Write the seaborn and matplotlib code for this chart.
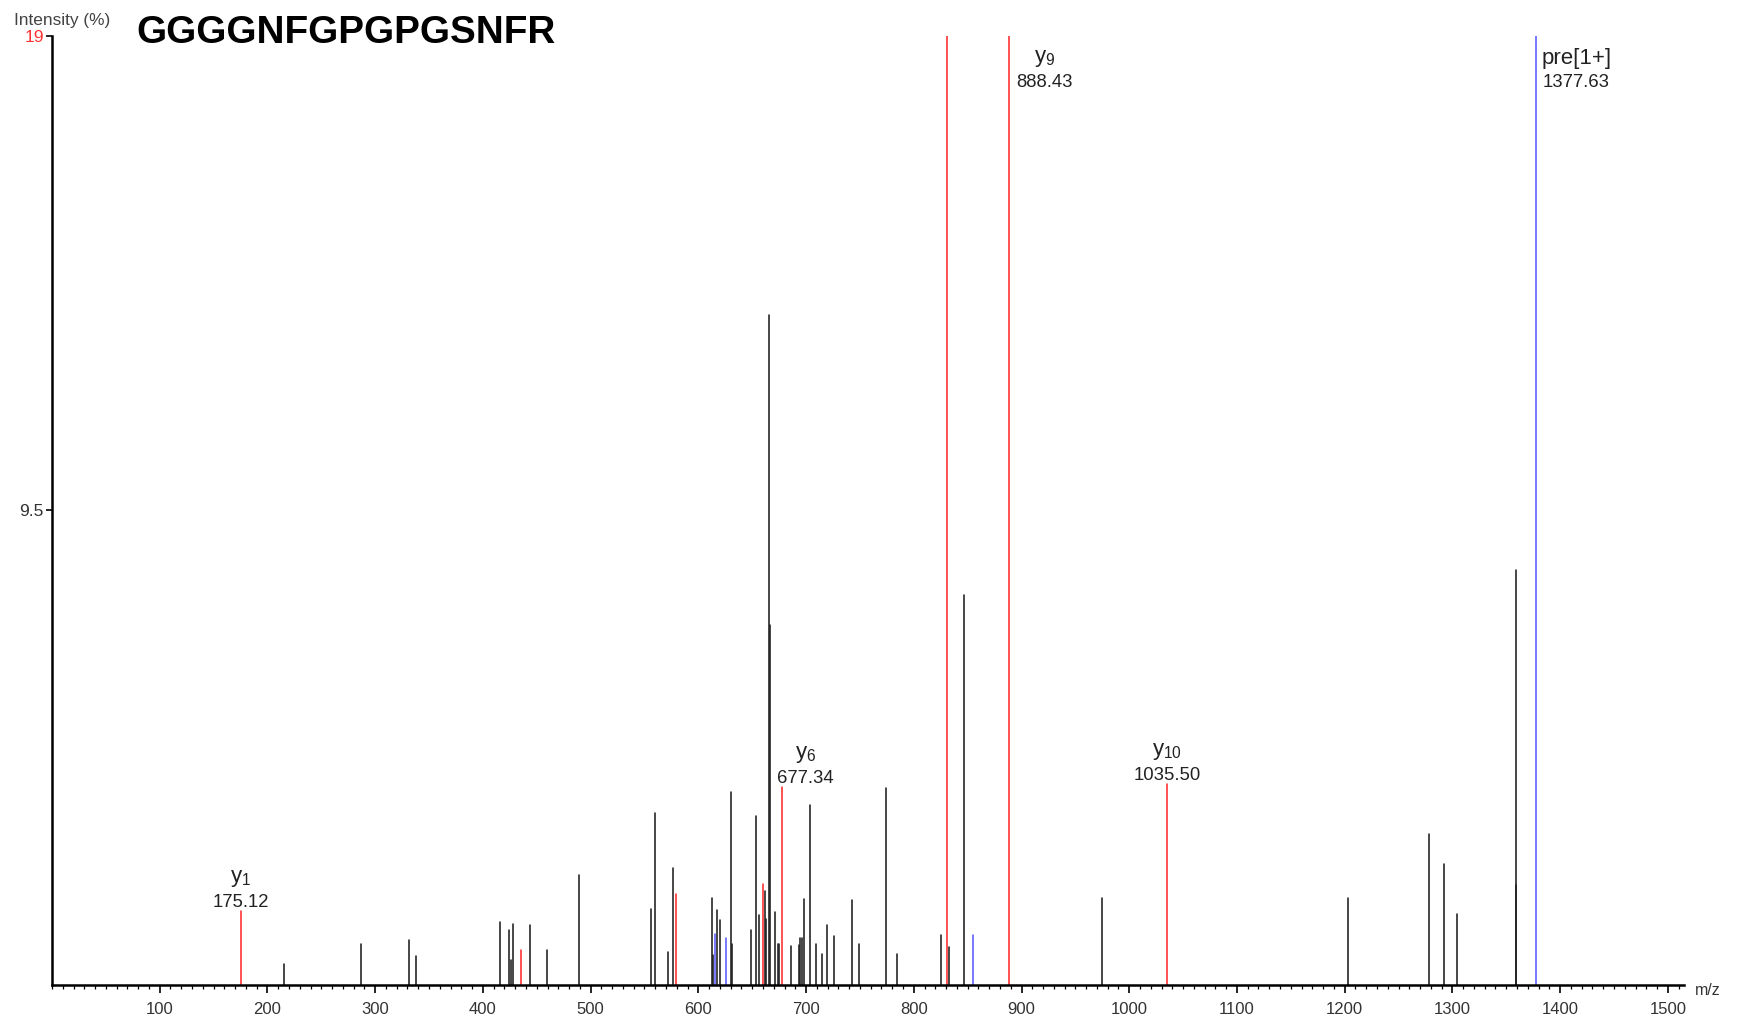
import numpy as np
import pandas as pd
import matplotlib
matplotlib.use("Agg")
import matplotlib.pyplot as plt
import seaborn as sns
from matplotlib.ticker import MultipleLocator, FixedLocator

# ---------------- data ----------------
title = "GGGGNFGPGPGSNFR"

black_mz = [215, 287, 331, 338, 416, 424.6, 426, 427.7, 443.8, 459.6, 489,
            556.5, 559.6, 571.7, 576.6, 613, 613.5, 617.5, 620.5, 630.2, 631.4,
            648.7, 653.7, 656.2, 661.7, 663, 666, 666.6, 671.3, 673.7, 674.5,
            686.2, 693, 694, 695.8, 698, 703.2, 709.4, 715, 719, 725.8, 742.5,
            749.6, 773.8, 784.3, 825.7, 832.3, 846.2, 974.4, 1203.2, 1278,
            1292.3, 1304.4, 1358.8, 1359.3]
black_int = [0.42, 0.82, 0.91, 0.58, 1.26, 1.10, 0.50, 1.23, 1.20, 0.70, 2.20,
             1.53, 3.44, 0.66, 2.35, 1.75, 0.60, 1.50, 1.30, 3.86, 0.82,
             1.10, 3.38, 1.40, 1.88, 1.33, 13.4, 7.2, 1.46, 0.83, 0.83,
             0.78, 0.80, 0.95, 0.95, 1.73, 3.61, 0.83, 0.63, 1.20, 0.98, 1.70,
             0.82, 3.95, 0.63, 1.01, 0.76, 7.80, 1.75, 1.75, 3.03,
             2.43, 1.43, 8.31, 2.0]

red_mz = [175.12, 435.8, 579.7, 659.6, 677.34, 830.7, 888.43, 1035.50]
red_int = [1.49, 0.70, 1.83, 2.03, 3.96, 27.0, 30.0, 4.03]

blue_mz = [615.3, 626.0, 855.2, 1377.63]
blue_int = [1.03, 0.95, 1.01, 29.0]

ion_labels = ["y$_{1}$", "y$_{6}$", "y$_{9}$", "y$_{10}$", "pre[1+]"]
ion_mz = [175.12, 677.34, 888.43, 1035.50, 1377.63]
ion_text = ["175.12", "677.34", "888.43", "1035.50", "1377.63"]

x_ticks = list(range(100, 1501, 100))
y_ticks = [9.5, 19]
y_tick_labels = ["9.5", "19"]

# ---------------- build table ----------------
rows = []
pid = 0
for kind, mzs, ints in (("black", black_mz, black_int),
                        ("red", red_mz, red_int),
                        ("blue", blue_mz, blue_int)):
    for m, v in zip(mzs, ints):
        rows.append({"peak": pid, "kind": kind, "mz": m, "intensity": 0.0})
        rows.append({"peak": pid, "kind": kind, "mz": m, "intensity": v})
        pid += 1
df = pd.DataFrame(rows)
all_mz = black_mz + red_mz + blue_mz
all_int = black_int + red_int + blue_int

# ---------------- style ----------------
sns.set_theme(style="white")
plt.rcParams["font.family"] = ["Liberation Sans", "DejaVu Sans"]
plt.rcParams["mathtext.fontset"] = "custom"
plt.rcParams["mathtext.rm"] = "Liberation Sans"
plt.rcParams["mathtext.it"] = "Liberation Sans"
plt.rcParams["mathtext.default"] = "regular"

fig = plt.figure(figsize=(17.37, 10.19), dpi=100)
ax = fig.add_axes([52 / 1737, 34 / 1019, (1684 - 52) / 1737, (983.5 - 34) / 1019])

palette = {"black": "#1e1e1e", "red": "#ff2b2b", "blue": "#5a5aff"}
sns.lineplot(data=df, x="mz", y="intensity", hue="kind", units="peak",
             estimator=None, sort=False, palette=palette, legend=False,
             linewidth=1.15, ax=ax)

ax.set_xlim(0, 1515)
ax.set_ylim(0, 19)
ax.set_xlabel("")
ax.set_ylabel("")

for s in ("top", "right"):
    ax.spines[s].set_visible(False)
for s in ("left", "bottom"):
    ax.spines[s].set_color("black")
    ax.spines[s].set_linewidth(1.8)

ax.xaxis.set_major_locator(FixedLocator(x_ticks))
ax.xaxis.set_minor_locator(MultipleLocator(10))
ax.set_xticklabels([str(t) for t in x_ticks])
ax.tick_params(axis="x", which="major", direction="out", length=6, width=1.2,
               color="black", labelsize=12, labelcolor="#333333", pad=6,
               bottom=True)
ax.tick_params(axis="x", which="minor", direction="out", length=3, width=0.9,
               color="black", bottom=True)
ax.set_yticks(y_ticks)
ax.set_yticklabels(y_tick_labels)
ax.tick_params(axis="y", which="major", direction="out", length=4, width=1.2,
               color="black", labelsize=12.5, labelcolor="#333333", pad=2,
               left=True)
ax.get_yticklabels()[-1].set_color("#ff3333")

# ---------------- annotations ----------------
ymax = ax.get_ylim()[1]
for lab, m, txt in zip(ion_labels, ion_mz, ion_text):
    inten = all_int[int(np.argmin(np.abs(np.array(all_mz) - m)))]
    if inten >= ymax:
        num = ax.annotate(txt, xy=(m, 1.0), xycoords=("data", "axes fraction"),
                          xytext=(5, -33.5), textcoords="offset points",
                          ha="left", va="center", fontsize=13.3,
                          color="#222222", annotation_clip=False)
    else:
        dx = 17 if txt == "677.34" else 0
        num = ax.annotate(txt, xy=(m, inten), xycoords="data",
                          xytext=(dx, 0), textcoords="offset points",
                          ha="center", va="bottom", fontsize=13.3,
                          color="#222222", annotation_clip=False)
    ax.annotate(lab, xy=(0.5, 1.0), xycoords=num, xytext=(0, 3.5),
                textcoords="offset points", ha="center", va="bottom",
                fontsize=16, color="#222222", annotation_clip=False)

ax.annotate("m/z", xy=(1.0, 0.0), xycoords="axes fraction", xytext=(8, -4),
            textcoords="offset points", ha="left", va="center",
            fontsize=11.5, color="#333333", annotation_clip=False)

fig.text(14 / 1737, 1 - 20 / 1019, "Intensity (%)", ha="left", va="center",
         fontsize=12.4, color="#444444")
fig.text(136 / 1737, 1 - 33 / 1019, title, ha="left", va="center",
         fontsize=27.8, fontweight="bold", color="black")

fig.savefig("out.png", dpi=100)
